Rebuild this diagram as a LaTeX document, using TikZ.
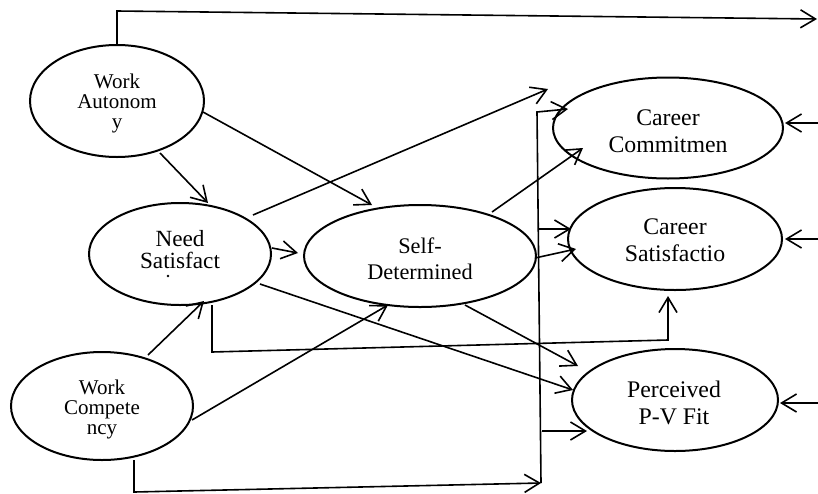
\documentclass[tikz,border=0pt]{standalone}
\usepackage{fontspec}
\setmainfont{Liberation Serif}
\usetikzlibrary{arrows.meta,shapes.geometric,calc}
\begin{document}
\begin{tikzpicture}[x=1pt,y=-1pt,
  ell/.style={draw, ellipse, line width=2pt, inner sep=0pt, outer sep=0pt},
  txt/.style={align=center, inner sep=0pt, outer sep=0pt},
  conn/.style={line width=1.6pt, -{Straight Barb[length=15pt,width=18pt]}}]
\useasboundingbox (0,0) rectangle (818,493);

% ellipses
\node[ell, minimum width=174pt, minimum height=112pt] (WA) at (117,101) {};
\node[ell, minimum width=182pt, minimum height=102pt] (NS) at (180,254) {};
\node[ell, minimum width=182pt, minimum height=108pt] (WC) at (102,406) {};
\node[ell, minimum width=232pt, minimum height=102pt] (SD) at (420,256) {};
\node[ell, minimum width=230pt, minimum height=101pt] (CC) at (668,128) {};
\node[ell, minimum width=214pt, minimum height=102pt] (CS) at (675,239) {};
\node[ell, minimum width=206pt, minimum height=102pt] (PF) at (675,400) {};

% texts
\node[txt, font=\fontsize{21}{20}\selectfont] (WAt) at (117,103.6) {Work\\Autonom\\y};
\node[txt, font=\fontsize{23.2}{21.5}\selectfont] (NSt) at (180,249.6) {Need\\Satisfact};
\fill (168,276) circle (1.3pt);
\node[txt, font=\fontsize{21}{20}\selectfont] (WCt) at (102,409) {Work\\Compete\\ncy};
\node[txt, font=\fontsize{22.3}{26}\selectfont] (SDt) at (420,258.4) {Self-\\Determined};
\node[txt, font=\fontsize{23.8}{27}\selectfont] (CCt) at (668,131.3) {Career\\Commitmen};
\node[txt, font=\fontsize{23.8}{27}\selectfont] (CSt) at (675,240.4) {Career\\Satisfactio};
\node[txt, font=\fontsize{23.8}{27}\selectfont] (PFt) at (674,403.3) {Perceived\\P-V Fit};

% coordinates
\coordinate (tl) at (117,11);
\coordinate (tr) at (817,19);
\coordinate (nsfree) at (548,89);
\coordinate (b1) at (212,352);
\coordinate (b2) at (668,340);
\coordinate (c1) at (134,492);
\coordinate (busbot) at (541,483);
\coordinate (bustop) at (537,112);
\coordinate (r1) at (818,123);
\coordinate (r2) at (818,239);
\coordinate (r3) at (818,403);

% connectors
\draw[conn] (WA.north) -- (tl) -- (tr);
\draw[conn] ($(WA.center)+(43,52)$) -- ($(NS.center)+(28,-51)$);
\draw[conn] ($(WA.center)+(86,11)$) -- ($(SD.center)+(-48,-51)$);
\draw[conn] ($(NS.center)+(73,-39)$) -- (nsfree);
\draw[conn] ($(NS.center)+(92,-6)$) -- ($(SD.center)+(-122,-3)$);
\draw[conn] ($(NS.center)+(80,30)$) -- ($(PF.center)+(-102,-10)$);
\draw[conn] (b1 |- NS.south) -- (b1) -- (b2) -- ($(b2 |- CS.south)+(0,6)$);
\draw[conn] ($(WC.center)+(46,-51)$) -- ($(NS.center)+(24,47)$);
\draw[conn] ($(WC.center)+(90,14)$) -- ($(SD.center)+(-32,49)$);
\draw[conn] (c1 |- WC.south) -- (c1) -- (busbot);
\draw[conn] (busbot) -- (bustop) -- ($(CC.center)+(-100,-19)$);
\draw[conn] ($(CS.center)+(-136,-10)$) -- ($(CS.center)+(-104,-10)$);
\draw[conn] ($(PF.center)+(-133,31)$) -- ($(PF.center)+(-88,31)$);
\draw[conn] ($(SD.center)+(72,-44)$) -- ($(CC.center)+(-85,20)$);
\draw[conn] ($(SD.center)+(115,2)$) -- ($(CS.center)+(-99,10)$);
\draw[conn] ($(SD.center)+(45,49)$) -- ($(PF.center)+(-97,-34)$);
\draw[conn] (r1) -- ($(CC.center)+(117,-5)$);
\draw[conn] (r2) -- ($(CS.center)+(110,0)$);
\draw[conn] (r3) -- ($(PF.center)+(105,3)$);
\end{tikzpicture}
\end{document}
